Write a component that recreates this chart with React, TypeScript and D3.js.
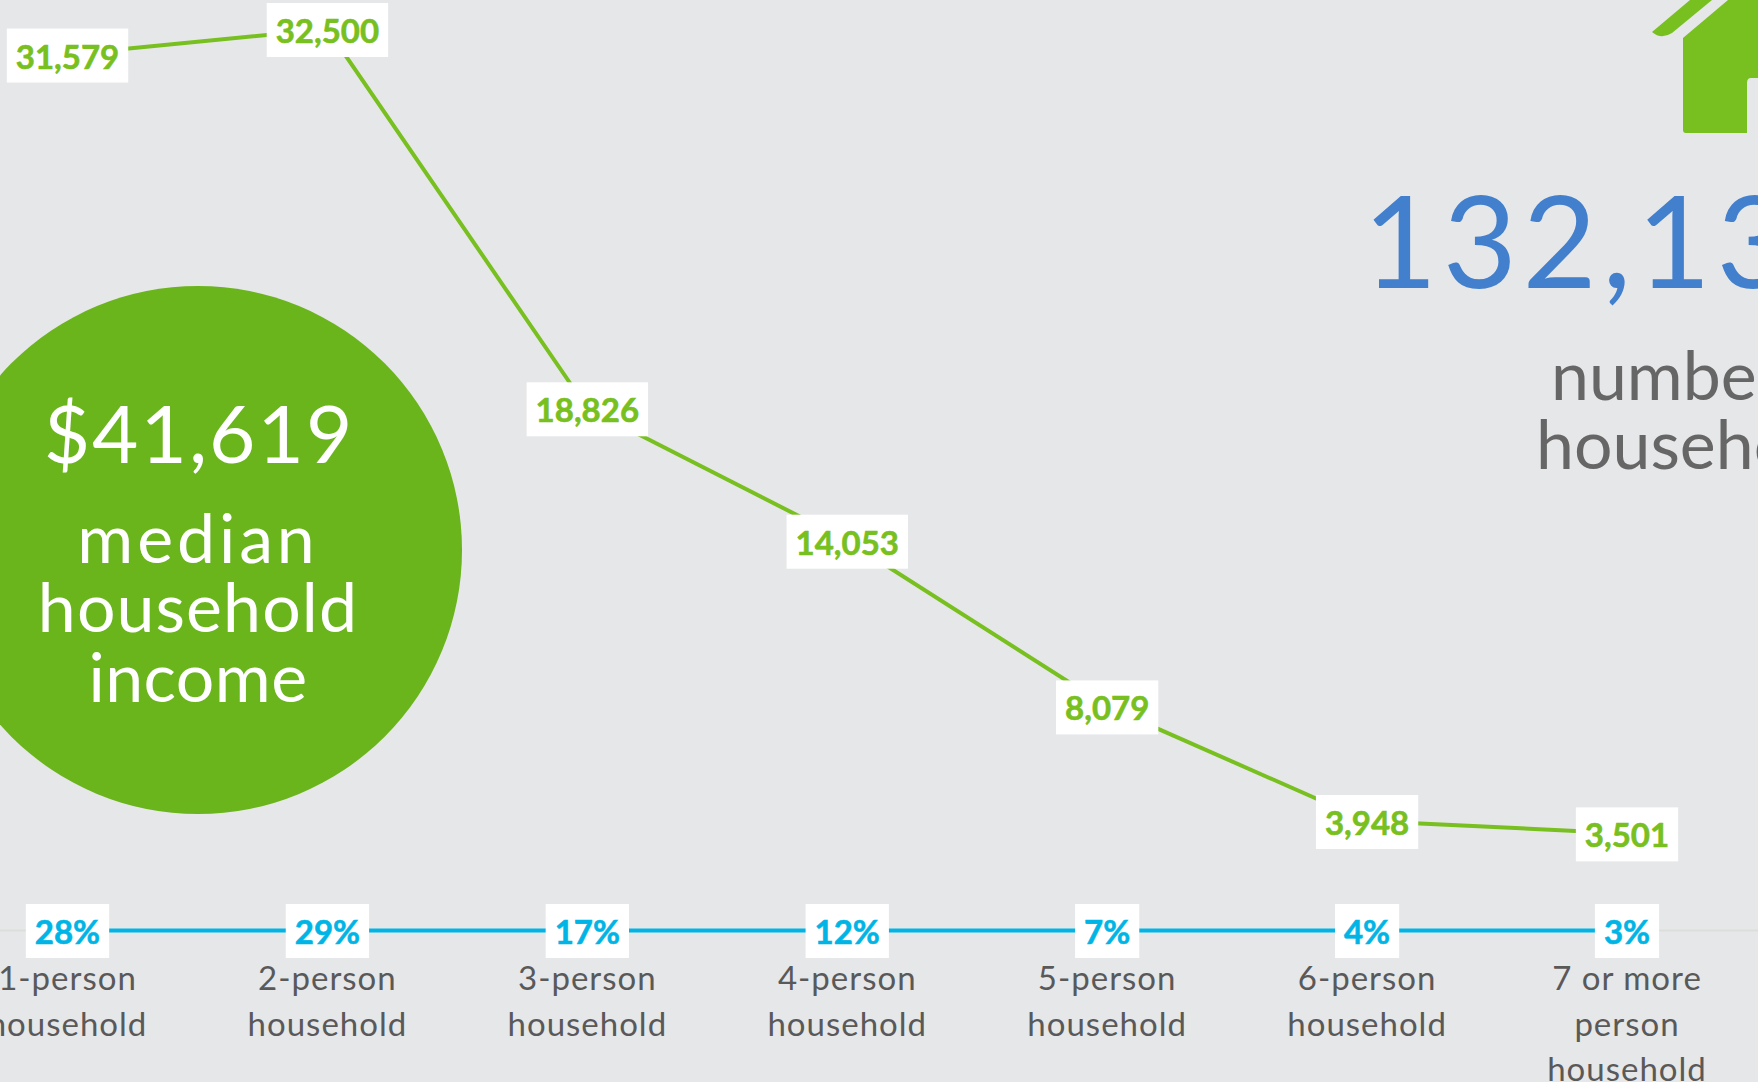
import { useEffect, useRef } from "react";
import * as d3 from "d3";

const categories = [
  ["1-person", "household"],
  ["2-person", "household"],
  ["3-person", "household"],
  ["4-person", "household"],
  ["5-person", "household"],
  ["6-person", "household"],
  ["7 or more", "person", "household"],
];
const householdCounts = [31579, 32500, 18826, 14053, 8079, 3948, 3501];
const householdShares = [28, 29, 17, 12, 7, 4, 3];

const W = 1758;
const H = 1082;
const GREEN = "#78bf20";
const BLUE = "#00b5e6";
const LABEL_FONT = "Lato, sans-serif";
const TITLE_FONT = "Lato, sans-serif";

function App() {
  const ref = useRef<SVGSVGElement>(null);

  useEffect(() => {
    document.body.style.margin = "0";
    const svg = d3.select(ref.current);
    svg.selectAll("*").remove();

    const x = d3.scalePoint().domain(d3.range(7).map(String)).range([67.5, 1627]);
    const y = d3.scaleLinear().domain([0, 32500]).range([930.5, 29]);

    svg.append("rect").attr("width", W).attr("height", H).attr("fill", "#e6e7e9");

    // baseline
    svg.append("line")
      .attr("x1", 0).attr("x2", W)
      .attr("y1", y(0)).attr("y2", y(0))
      .attr("stroke", "#dcdedc").attr("stroke-width", 2);

    // big circle
    svg.append("circle").attr("cx", 198).attr("cy", 550).attr("r", 264).attr("fill", "#6ab41c");
    const circleText = svg.append("g")
      .attr("fill", "#fff")
      .attr("text-anchor", "middle")
      .attr("font-family", TITLE_FONT);
    circleText.append("text").attr("x", 199).attr("y", 463)
      .attr("font-size", 80).attr("letter-spacing", 2).text("$41,619");
    [["median", 563, 3.9], ["household", 632, 1.1], ["income", 702, 0.4]].forEach(([t, yy, ls]) => {
      circleText.append("text").attr("x", 198).attr("y", yy as number)
        .attr("font-size", 68).attr("letter-spacing", ls as number).text(t as string);
    });

    // house icon
    svg.append("path")
      .attr("d", "M1652,32 L1690,0 L1712,0 L1672,33 Q1661,40 1652,32 Z")
      .attr("fill", GREEN);
    svg.append("path")
      .attr("d", "M1683,38 L1728,0 L1758,0 L1758,78 L1751,78 Q1747,78 1747,83 L1747,133 L1686,133 Q1683,133 1683,130 Z")
      .attr("fill", GREEN);

    // total
    svg.append("text").attr("x", 1363).attr("y", 288)
      .attr("font-family", TITLE_FONT).attr("font-size", 128).attr("letter-spacing", 5.5)
      .attr("fill", "#427fcc").text("132,13");
    svg.append("text").attr("x", 1551).attr("y", 400)
      .attr("font-family", TITLE_FONT).attr("font-size", 68)
      .attr("fill", "#666").text("number");
    svg.append("text").attr("x", 1536).attr("y", 469)
      .attr("font-family", TITLE_FONT).attr("font-size", 68)
      .attr("fill", "#666").text("households");

    // lines
    const line = d3.line<number>().x((_, i) => x(String(i))!).y((d) => y(d));
    svg.append("path").datum(householdCounts)
      .attr("d", line).attr("fill", "none").attr("stroke", GREEN).attr("stroke-width", 4);
    svg.append("path").datum(householdShares.map((d) => d / 100))
      .attr("d", line).attr("fill", "none").attr("stroke", BLUE).attr("stroke-width", 4);

    // data labels: white box sized off the text
    const addLabel = (cx: number, cy: number, label: string, color: string) => {
      const g = svg.append("g");
      const rect = g.append("rect").attr("fill", "#fff");
      const t = g.append("text")
        .attr("x", cx).attr("y", cy + 13)
        .attr("text-anchor", "middle")
        .attr("font-family", LABEL_FONT).attr("font-weight", 700).attr("font-size", 33)
        .attr("stroke", color).attr("stroke-width", 0.6)
        .attr("fill", color).text(label);
      const w = (t.node() as SVGTextElement).getComputedTextLength();
      rect.attr("x", cx - w / 2 - 9).attr("width", w + 18)
        .attr("y", cy - 27).attr("height", 54);
    };
    householdCounts.forEach((d, i) => addLabel(x(String(i))!, y(d) + 1, d3.format(",")(d), GREEN));
    householdShares.forEach((d, i) => addLabel(x(String(i))!, 931, d + "%", BLUE));

    // category labels
    const catLabels = svg.append("g")
      .attr("text-anchor", "middle")
      .attr("font-family", LABEL_FONT).attr("font-size", 33).attr("letter-spacing", 1).attr("fill", "#595959");
    categories.forEach((lines, i) => {
      lines.forEach((l, j) => {
        catLabels.append("text")
          .attr("x", x(String(i))!).attr("y", 990 + j * 45.5).text(l);
      });
    });
  }, []);

  return <svg ref={ref} width={W} height={H} style={{ display: "block" }} />;
}

export default App;
